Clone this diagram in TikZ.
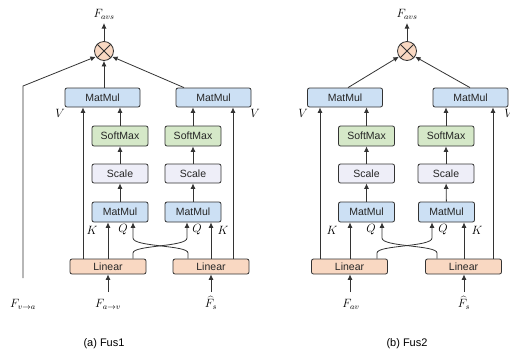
\documentclass[tikz,border=0pt]{standalone}
\usepackage{fontspec}
\setsansfont{Liberation Sans}
\usetikzlibrary{arrows.meta}
\definecolor{mmblue}{HTML}{CCE0F4}
\definecolor{smgreen}{HTML}{D5E8C8}
\definecolor{sclav}{HTML}{EEEEF8}
\definecolor{linpeach}{HTML}{F9D8C2}
\definecolor{edge}{HTML}{333333}
\tikzset{
  box/.style={draw=edge, line width=0.8pt, rounded corners=2pt, inner sep=0pt,
    font=\sffamily\fontsize{10.5}{12}\selectfont, text=black!85},
  bigmm/.style={box, fill=mmblue, minimum width=75pt, minimum height=19pt},
  smallmm/.style={box, fill=mmblue, minimum width=56pt, minimum height=20pt},
  softbox/.style={box, fill=smgreen, minimum width=56pt, minimum height=20pt},
  scalebox/.style={box, fill=sclav, minimum width=56pt, minimum height=19pt},
  linbox/.style={box, fill=linpeach, minimum width=76pt, minimum height=15pt},
  otimesnode/.style={circle, draw=edge, line width=0.8pt, fill=linpeach, minimum size=19pt, inner sep=0pt},
  arr/.style={-{Latex[length=5.5pt,width=5pt]}, line width=0.8pt, draw=edge},
  ln/.style={line width=0.8pt, draw=edge},
  lbl/.style={inner sep=0pt, font=\fontsize{12}{14}\selectfont},
  captxt/.style={inner sep=0pt, font=\sffamily\fontsize{11}{13}\selectfont}
}
\begin{document}
\begin{tikzpicture}[x=1pt,y=-1pt]
\useasboundingbox (0,0) rectangle (510,354);

% ================= Fus1 =================
\node[otimesnode] (c1) at (104,51) {};
\draw[ln] (c1.north west) -- (c1.south east) (c1.north east) -- (c1.south west);
\node[lbl] (o1) at (104,14) {$F_{avs}$};
\node[bigmm] (mm1L) at (102.5,97.5) {MatMul};
\node[bigmm] (mm1R) at (213.5,97.5) {MatMul};
\node[softbox] (sm1L) at (120,136) {SoftMax};
\node[softbox] (sm1R) at (193,136) {SoftMax};
\node[scalebox] (sc1L) at (120,173.5) {Scale};
\node[scalebox] (sc1R) at (193,173.5) {Scale};
\node[smallmm] (mq1L) at (120,212) {MatMul};
\node[smallmm] (mq1R) at (193,212) {MatMul};
\node[linbox] (lin1L) at (108,266.5) {Linear};
\node[linbox] (lin1R) at (211,266.5) {Linear};
\node[lbl] (in1a) at (23,304) {$F_{v\rightarrow a}$};
\node[lbl] (in1b) at (108,304) {$F_{a\rightarrow v}$};
\node[lbl] (in1c) at (211,303) {$\widehat{F}_s$};
\node[lbl] (v1L) at (60,113) {$V$};
\node[lbl] (v1R) at (255,113) {$V$};
\node[lbl] (k1L) at (92,230) {$K$};
\node[lbl] (q1L) at (123,230) {$Q$};
\node[lbl] (q1R) at (197,230) {$Q$};
\node[lbl] (k1R) at (223,230) {$K$};
\node[captxt] (cap1) at (104,344) {(a) Fus1};

\coordinate (t1) at (23,86);
\coordinate (b1) at (23,278);
\draw[arr] (c1.north) -- (o1.south |- 0,23);
\draw[arr] (mm1L.north -| c1.south) -- (c1.south);
\draw[arr] (mm1R.north -| 184,0) -- (c1.-35);
\draw[arr] (b1) -- (t1) -- (c1.215);
\foreach \a/\b in {sm1L/mm1L, sm1R/mm1R} \draw[arr] (\a.north) -- (\a.north |- \b.south);
\foreach \a/\b in {sc1L/sm1L, sc1R/sm1R, mq1L/sc1L, mq1R/sc1R} \draw[arr] (\a) -- (\b);
\draw[arr] (lin1L.north -| 83,0) -- (mm1L.south -| 83,0);
\draw[arr] (lin1R.north -| 233,0) -- (mm1R.south -| 233,0);
\draw[arr] (lin1L.north -| 108,0) -- (mq1L.south -| 108,0);
\draw[arr] (lin1R.north -| 211,0) -- (mq1R.south -| 211,0);
\draw[arr] (lin1L.north -| 133,0) -- (133,253) .. controls (133,245) and (187,247) .. (187,238) -- (mq1R.south -| 187,0);
\draw[arr] (lin1R.north -| 188,0) -- (188,253) .. controls (188,245) and (133,247) .. (133,238) -- (mq1L.south -| 133,0);
\draw[arr] (108,292) -- (lin1L.south -| 108,0);
\draw[arr] (211,292) -- (lin1R.south -| 211,0);

% ================= Fus2 =================
\node[otimesnode] (c2) at (407,51) {};
\draw[ln] (c2.north west) -- (c2.south east) (c2.north east) -- (c2.south west);
\node[lbl] (o2) at (407,14) {$F_{avs}$};
\node[bigmm] (mm2L) at (345,97.5) {MatMul};
\node[bigmm] (mm2R) at (470.5,97.5) {MatMul};
\node[softbox] (sm2L) at (366.5,136) {SoftMax};
\node[softbox] (sm2R) at (446,136) {SoftMax};
\node[scalebox] (sc2L) at (366.5,173.5) {Scale};
\node[scalebox] (sc2R) at (446,173.5) {Scale};
\node[smallmm] (mq2L) at (366.5,212) {MatMul};
\node[smallmm] (mq2R) at (446.5,212) {MatMul};
\node[linbox] (lin2L) at (349.5,266.5) {Linear};
\node[linbox] (lin2R) at (463.5,266.5) {Linear};
\node[lbl] (in2b) at (351,304) {$F_{av}$};
\node[lbl] (in2c) at (464,303) {$\widehat{F}_s$};
\node[lbl] (v2L) at (303,113) {$V$};
\node[lbl] (v2R) at (509,113) {$V$};
\node[lbl] (k2L) at (332,230) {$K$};
\node[lbl] (q2L) at (371,230) {$Q$};
\node[lbl] (q2R) at (443,230) {$Q$};
\node[lbl] (k2R) at (477,230) {$K$};
\node[captxt] (cap2) at (407,344) {(b) Fus2};

\draw[arr] (c2.north) -- (o2.south |- 0,23);
\draw[arr] (mm2L.north -| 348,0) -- (c2.215);
\draw[arr] (mm2R.north -| 470,0) -- (c2.-35);
\foreach \a/\b in {sm2L/mm2L, sm2R/mm2R} \draw[arr] (\a.north) -- (\a.north |- \b.south);
\foreach \a/\b in {sc2L/sm2L, sc2R/sm2R, mq2L/sc2L, mq2R/sc2R} \draw[arr] (\a) -- (\b);
\draw[arr] (lin2L.north -| 320,0) -- (mm2L.south -| 320,0);
\draw[arr] (lin2R.north -| 493,0) -- (mm2R.south -| 493,0);
\draw[arr] (lin2L.north -| 350,0) -- (mq2L.south -| 350,0);
\draw[arr] (lin2R.north -| 464,0) -- (mq2R.south -| 464,0);
\draw[arr] (lin2L.north -| 377,0) -- (377,253) .. controls (377,245) and (432,247) .. (432,238) -- (mq2R.south -| 432,0);
\draw[arr] (lin2R.north -| 437,0) -- (437,253) .. controls (437,245) and (382,247) .. (382,238) -- (mq2L.south -| 382,0);
\draw[arr] (350,292) -- (lin2L.south -| 350,0);
\draw[arr] (464,292) -- (lin2R.south -| 464,0);
\end{tikzpicture}
\end{document}
